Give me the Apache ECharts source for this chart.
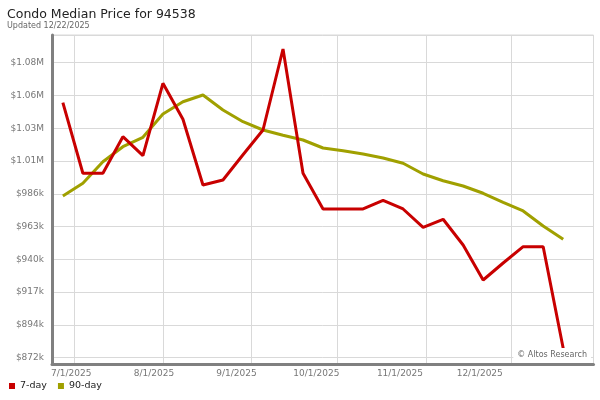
<!DOCTYPE html>
<html><head><meta charset="utf-8">
<script src="https://cdn.jsdelivr.net/npm/echarts@6/dist/echarts.min.js"></script>
<style>html,body{margin:0;padding:0;background:#fff}#c{width:600px;height:400px}</style>
</head><body><div id="c"></div>
<script>
const dates = ['2025-06-27','2025-07-04','2025-07-11','2025-07-18','2025-07-25','2025-08-01','2025-08-08','2025-08-15','2025-08-22','2025-08-29','2025-09-05','2025-09-12','2025-09-19','2025-09-26','2025-10-03','2025-10-10','2025-10-17','2025-10-24','2025-10-31','2025-11-07','2025-11-14','2025-11-21','2025-11-28','2025-12-05','2025-12-12','2025-12-19'];
const sevenDay = [1050600,1001200,1001200,1026800,1013500,1064200,1039000,993000,996500,1014200,1031500,1088200,1001200,976200,976200,976200,982300,976200,963400,969000,951000,926500,938400,949800,949800,878700];
const ninetyDay = [985300,994200,1009300,1019800,1026400,1042700,1051300,1056000,1045500,1037300,1031500,1027800,1024500,1018900,1017000,1014700,1011900,1008200,1000700,996000,992300,987200,980900,974800,964300,955000];
const yTickLabels = ['$872k','$894k','$917k','$940k','$963k','$986k','$1.01M','$1.03M','$1.06M','$1.08M'];
const xTickDates = ['2025-07-01','2025-08-01','2025-09-01','2025-10-01','2025-11-01','2025-12-01'];
const xTickLabels = ['7/1/2025','8/1/2025','9/1/2025','10/1/2025','11/1/2025','12/1/2025'];

const Y0 = 872100, YS = 22950;          // first labelled tick and tick step
const YMIN = 867690, YMAX = 1098000;    // plot extent
const GRID_TOP = 35, GRID_BOTTOM = 36, GRID_H = 400 - GRID_TOP - GRID_BOTTOM;
const gridBBottom = GRID_BOTTOM + (Y0 - YMIN) / (YMAX - YMIN) * GRID_H;

const ts = d => Date.parse(d + 'T00:00:00Z');
const xTickTs = xTickDates.map(ts);
const XMIN = ts('2025-06-23') + 0.2 * 86400000, XMAX = ts('2025-12-29') + 0.6 * 86400000;
const shifts = [6, 18, 30, 42, 52, 64];
const rich = {};
shifts.forEach((s, i) => { rich['s' + i] = { padding: [0, s, 0, 0], fontSize: 9, color: '#777', fontFamily: 'DejaVu Sans' }; });

const chart = echarts.init(document.getElementById('c'), null, { renderer: 'canvas' });
chart.setOption({
  useUTC: true,
  animation: false,
  backgroundColor: '#fff',
  textStyle: { fontFamily: 'DejaVu Sans' },
  title: {
    text: 'Condo Median Price for 94538',
    subtext: 'Updated 12/22/2025',
    left: 2, top: 3, itemGap: 1,
    textStyle: { fontSize: 12.5, fontWeight: 'normal', color: '#222', fontFamily: 'DejaVu Sans' },
    subtextStyle: { fontSize: 8, color: '#666', fontFamily: 'DejaVu Sans' }
  },
  legend: {
    left: 4, bottom: 4, icon: 'rect', itemWidth: 6, itemHeight: 6, itemGap: 11,
    textStyle: { fontSize: 9.5, color: '#222', fontFamily: 'DejaVu Sans' },
    data: ['7-day', '90-day']
  },
  grid: [
    { left: 52, right: 6.5, top: GRID_TOP, bottom: GRID_BOTTOM, show: true, borderColor: '#d9d9d9', borderWidth: 1 },
    { left: 52, right: 6.5, top: GRID_TOP, bottom: gridBBottom, show: false }
  ],
  xAxis: [{
    type: 'time', gridIndex: 0,
    min: XMIN, max: XMAX,
    splitNumber: 6,
    axisLine: { show: true, lineStyle: { color: '#808080', width: 3 } },
    axisTick: { show: false },
    splitLine: { show: true, lineStyle: { color: '#d9d9d9', width: 1 } },
    axisLabel: {
      margin: 5, fontSize: 9, color: '#777', hideOverlap: false,
      formatter: function (v) {
        const i = xTickTs.indexOf(typeof v === 'number' ? v : +v);
        return i >= 0 ? '{s' + i + '|' + xTickLabels[i] + '}' : '';
      },
      rich: rich
    }
  }, {
    type: 'time', gridIndex: 1, min: XMIN, max: XMAX, show: false
  }],
  yAxis: [{
    type: 'value', gridIndex: 0,
    min: YMIN, max: YMAX,
    axisLine: { show: true, lineStyle: { color: '#808080', width: 3 } },
    axisTick: { show: false },
    splitLine: { show: false },
    axisLabel: { show: false }
  }, {
    type: 'value', gridIndex: 1,
    min: Y0, max: YMAX, interval: YS,
    axisLine: { show: false },
    axisTick: { show: false },
    splitLine: { show: true, lineStyle: { color: '#d9d9d9', width: 1 } },
    axisLabel: {
      margin: 8, fontSize: 9, color: '#777', showMaxLabel: false,
      formatter: function (v) {
        const i = Math.round((v - Y0) / YS);
        if (i >= 0 && i < yTickLabels.length && Math.abs(v - (Y0 + i * YS)) < 1) return yTickLabels[i];
        return '';
      }
    }
  }],
  graphic: [{
    type: 'text', right: 9, bottom: 37, z: 100,
    style: { text: '\u00A9 Altos Research', fontSize: 8, fill: '#666', fontFamily: 'DejaVu Sans', backgroundColor: '#fff', padding: [3, 4, 4, 4] }
  }],
  series: [
    { name: '7-day', type: 'line', xAxisIndex: 0, yAxisIndex: 0, data: dates.map((d, i) => [ts(d), sevenDay[i]]), showSymbol: false, symbol: 'none', color: '#c80000', lineStyle: { width: 3, color: '#c80000' }, z: 3 },
    { name: '90-day', type: 'line', xAxisIndex: 0, yAxisIndex: 0, data: dates.map((d, i) => [ts(d), ninetyDay[i]]), showSymbol: false, symbol: 'none', color: '#a0a000', lineStyle: { width: 3, color: '#a0a000' }, z: 2 }
  ]
});
</script></body></html>
